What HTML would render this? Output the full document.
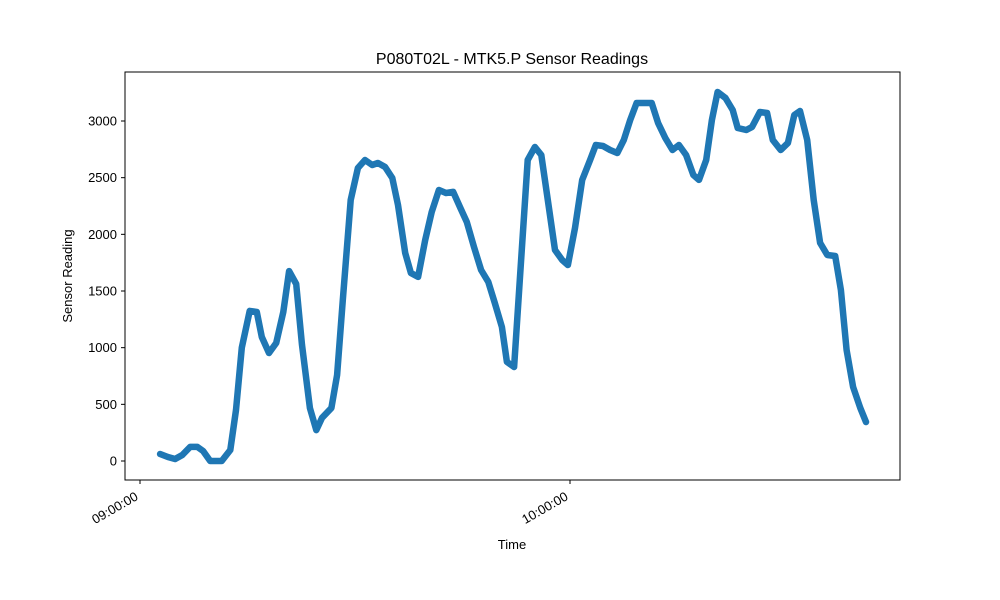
<!DOCTYPE html>
<html><head><meta charset="utf-8"><style>
body{margin:0;background:#fff;}
svg{display:block;font-family:"Liberation Sans","DejaVu Sans",sans-serif;}
</style></head><body>
<svg id="chart" width="1000" height="600" viewBox="0 0 1000 600">
<rect x="0" y="0" width="1000" height="600" fill="#fff"/>
<text x="512" y="64" text-anchor="middle" font-size="16">P080T02L - MTK5.P Sensor Readings</text>
<g id="plot"></g>
<rect x="125" y="72" width="775" height="408" fill="none" stroke="#000" stroke-width="1"/>
<text x="512" y="549" text-anchor="middle" font-size="13">Time</text>
<text transform="translate(72,276) rotate(-90)" text-anchor="middle" font-size="13">Sensor Reading</text>
<g id="yticks"></g>
<g id="xticks"></g>
</svg>
<script>
const minutes=[2.8,3.9,4.9,5.9,7.0,8.0,8.8,9.8,11.4,12.6,13.4,14.2,15.3,16.3,17.0,18.0,19.0,20.0,20.8,21.8,22.6,23.7,24.6,25.4,26.7,27.5,28.3,29.4,30.4,31.4,32.4,33.2,34.2,35.2,36.0,37.0,37.8,38.8,39.8,40.7,41.7,42.7,43.7,44.7,45.6,46.6,47.6,48.6,49.5,50.5,51.2,52.2,53.0,54.1,55.1,56.0,56.9,57.9,58.9,59.7,60.7,61.7,62.8,63.6,64.6,65.6,66.6,67.5,68.4,69.3,70.5,71.4,72.3,73.3,74.3,75.2,76.2,77.2,78.0,79.0,79.8,80.6,81.7,82.7,83.4,84.6,85.4,86.5,87.5,88.3,89.4,90.4,91.3,92.1,93.1,94.0,94.9,95.9,97.0,97.8,98.6,99.5,100.5,101.3];
const readings=[62,35,18,53,124,124,88,0,0,97,450,1000,1324,1315,1094,953,1041,1315,1676,1562,1024,468,273,380,468,759,1420,2303,2585,2656,2612,2629,2594,2497,2259,1835,1659,1624,1950,2197,2391,2365,2374,2232,2109,1888,1685,1580,1394,1182,874,829,1597,2656,2771,2700,2303,1862,1774,1729,2056,2480,2656,2788,2779,2744,2718,2832,3009,3159,3159,3159,2982,2850,2744,2788,2700,2524,2480,2656,3009,3256,3203,3097,2938,2921,2947,3079,3071,2832,2744,2806,3053,3088,2832,2303,1924,1818,1809,1509,979,653,468,344];
const yTicks=[0,500,1000,1500,2000,2500,3000];
const xTickMinutes=[0,60];
const xTickLabels=["09:00:00","10:00:00"];
const NS="http://www.w3.org/2000/svg";
function xs(m){return 140+m*(430/60);}
function ys(v){return 461-v*(340/3000);}
const plot=document.getElementById('plot');
let d=minutes.map((m,i)=>(i?'L':'M')+xs(m).toFixed(1)+','+ys(readings[i]).toFixed(1)).join(' ');
const path=document.createElementNS(NS,'path');
path.setAttribute('d',d);
path.setAttribute('fill','none');path.setAttribute('stroke','#1f77b4');
path.setAttribute('stroke-width','6.5');path.setAttribute('stroke-linejoin','round');path.setAttribute('stroke-linecap','round');


plot.appendChild(path);
const yg=document.getElementById('yticks');
yTicks.forEach(v=>{
 const l=document.createElementNS(NS,'line');
 l.setAttribute('x1',125);l.setAttribute('x2',121);l.setAttribute('y1',ys(v));l.setAttribute('y2',ys(v));l.setAttribute('stroke','#000');
 
 
 yg.appendChild(l);
 const t=document.createElementNS(NS,'text');
 t.setAttribute('x',117);t.setAttribute('y',ys(v)+4.5);t.setAttribute('text-anchor','end');t.setAttribute('font-size','13');
 t.textContent=v;
 
 
 yg.appendChild(t);
});
const xg=document.getElementById('xticks');
xTickMinutes.forEach((m,i)=>{
 const x=xs(m);
 const l=document.createElementNS(NS,'line');
 l.setAttribute('x1',x);l.setAttribute('x2',x);l.setAttribute('y1',480);l.setAttribute('y2',484);l.setAttribute('stroke','#000');
 
 
 xg.appendChild(l);
 const t=document.createElementNS(NS,'text');
 t.setAttribute('transform','translate('+(x-1)+',499) rotate(-30)');
 t.setAttribute('text-anchor','end');t.setAttribute('font-size','13');
 t.textContent=xTickLabels[i];
 
 
 xg.appendChild(t);
});
</script>
</body></html>
